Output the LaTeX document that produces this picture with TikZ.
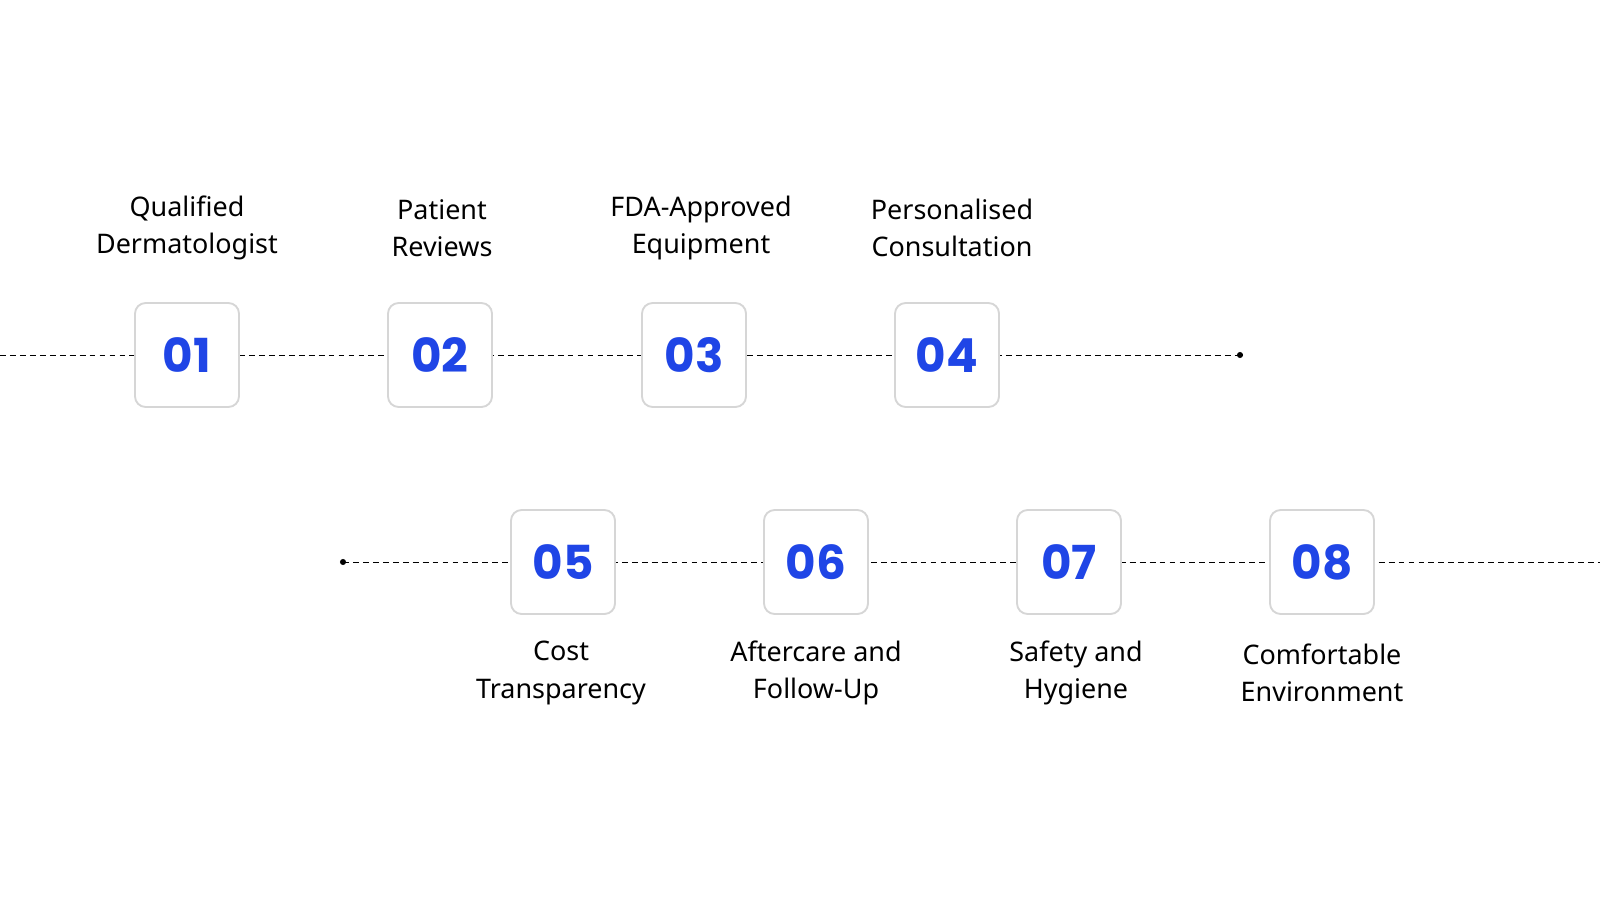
\documentclass[tikz,border=0pt]{standalone}
\usepackage{fontspec}
\setmainfont{Noto Sans}
\newfontfamily\numfont{Poppins}
\definecolor{numblue}{HTML}{1F45E6}
\definecolor{boxgray}{HTML}{D6D6D6}
\begin{document}
\begin{tikzpicture}[x=0.03cm,y=-0.03cm,
  numbox/.style={draw=boxgray,line width=1.6pt,rounded corners=9pt,fill=white,minimum size=104*0.03cm,inner sep=0pt,font=\numfont\bfseries\fontsize{40}{40}\selectfont,text=numblue},
  lbl/.style={align=center,font=\fontsize{23}{32}\selectfont},
  dline/.style={dashed,dash pattern=on 5pt off 3.5pt,line width=0.8pt}]
\useasboundingbox (0,0) rectangle (1600,900);
\coordinate (L1) at (0,355);
\coordinate (E1) at (1240,355);
\coordinate (S2) at (343,562);
\coordinate (E2) at (1600,562);
\draw[dline] (L1) -- (E1);
\draw[dline] (S2) -- (E2);
\fill (E1) circle (2.6pt);
\fill (S2) circle (2.6pt);
\node[numbox] (b1) at (187,355) {01};
\node[numbox] (b2) at (440,355) {02};
\node[numbox] (b3) at (694,355) {03};
\node[numbox] (b4) at (947,355) {04};
\node[numbox] (b5) at (563,562) {05};
\node[numbox] (b6) at (816,562) {06};
\node[numbox] (b7) at (1069,562) {07};
\node[numbox] (b8) at (1322,562) {08};
\node[lbl] (t1) at (187,228) {Qualified\\Dermatologist};
\node[lbl] (t2) at (442,228) {Patient\\Reviews};
\node[lbl] (t3) at (701,228) {FDA-Approved\\Equipment};
\node[lbl] (t4) at (952,228) {Personalised\\Consultation};
\node[lbl] (t5) at (561,673) {Cost\\Transparency};
\node[lbl] (t6) at (816,673) {Aftercare and\\Follow-Up};
\node[lbl] (t7) at (1076,673) {Safety and\\Hygiene};
\node[lbl] (t8) at (1322,673) {Comfortable\\Environment};
\end{tikzpicture}
\end{document}
